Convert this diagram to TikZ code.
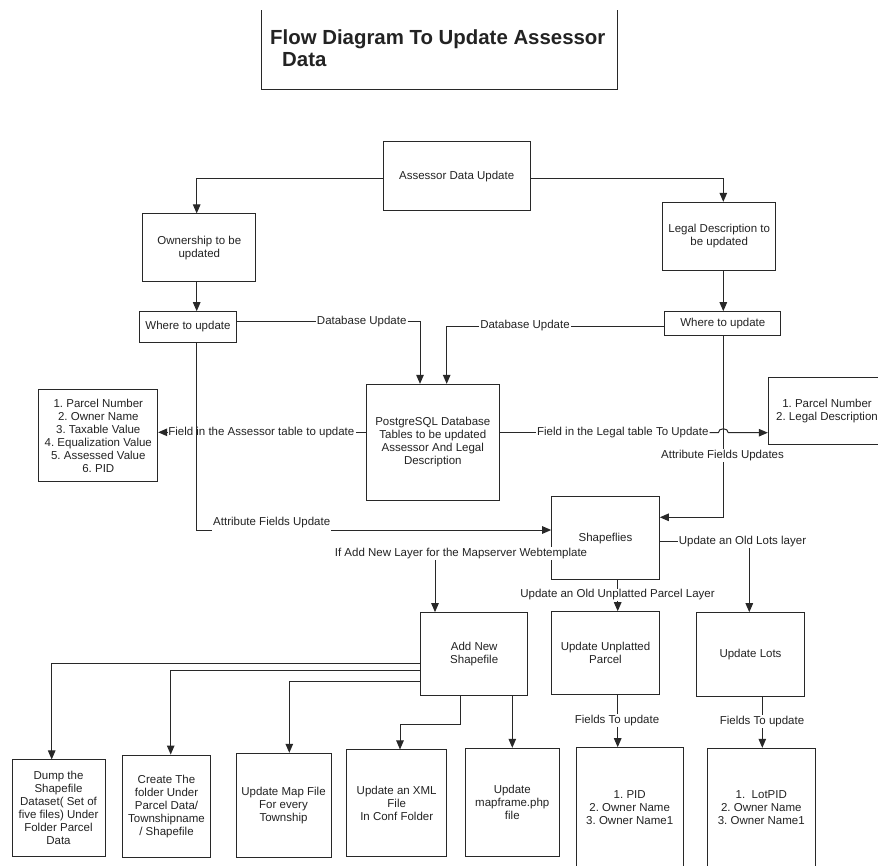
\documentclass[tikz,border=0pt]{standalone}
\usepackage{fontspec}
\setmainfont{Liberation Sans}
\usetikzlibrary{arrows.meta}
\definecolor{ln}{RGB}{40,40,40}
\definecolor{tx}{RGB}{35,35,35}
\frenchspacing
\begin{document}
\begin{tikzpicture}[x=1pt,y=-1pt,
  box/.style={draw=ln, line width=1pt, inner sep=0pt, align=center, text=tx, font=\fontsize{11.5}{13}\selectfont},
  lbl/.style={inner sep=1pt, text=tx, font=\fontsize{11.5}{13}\selectfont},
  wl/.style={lbl, fill=white},
  con/.style={draw=ln, line width=1pt},
  arr/.style={con, -{Triangle[length=9pt,width=7.5pt]}}
]
\useasboundingbox (0,0) rectangle (878,865);
\fill[white] (0,0) rectangle (878,865);
\clip (0,0) rectangle (878,865);

% title
\draw[con] (261,10) -- (261,89.3) -- (617,89.3) -- (617,10);
\node[anchor=base west, inner sep=0pt, text=tx, font=\fontsize{20.4}{23}\selectfont\bfseries] (t1) at (270,44.3) {Flow Diagram To Update Assessor};
\node[anchor=base west, inner sep=0pt, text=tx, font=\fontsize{20.4}{23}\selectfont\bfseries] (t2) at (282,66) {Data};

% column / row helper coordinates
\coordinate (cL) at (196.7,0);
\coordinate (cR) at (723.3,0);
\coordinate (cDB1) at (420,0);
\coordinate (cDB2) at (446.7,0);
\coordinate (cNew) at (435,0);
\coordinate (cLots) at (749.3,0);
\coordinate (cUn) at (617.7,0);
\coordinate (cLf) at (762.3,0);
\coordinate (cD) at (51.7,0);
\coordinate (cC) at (170.7,0);
\coordinate (cM) at (289.3,0);
\coordinate (cX) at (400,0);
\coordinate (cX0) at (460,0);
\coordinate (cMf) at (512.3,0);
\coordinate (yA) at (0,178.3);
\coordinate (ySh) at (0,517.3);
\coordinate (yAU) at (0,530);
\coordinate (yAN) at (0,553.3);
\coordinate (yOL) at (0,541.7);
\coordinate (yD) at (0,663.3);
\coordinate (yC) at (0,670);
\coordinate (yM) at (0,681.7);
\coordinate (yX) at (0,724.3);

% boxes
\node[box, minimum width=146.7pt, minimum height=69pt] (assessor) at (456.7,176.2) {Assessor Data Update};
\node[box, minimum width=113.3pt, minimum height=67.7pt] (own) at (199.3,247.8) {Ownership to be\\updated};
\node[box, minimum width=113pt, minimum height=67.7pt] (legal) at (719.2,236.2) {Legal Description to\\be updated};
\node[box, minimum width=97.4pt, minimum height=30.6pt] (whereL) at (188,327) {Where to update};
\node[box, minimum width=115.7pt, minimum height=24pt] (whereR) at (722.8,323.7) {Where to update};
\node[box, minimum width=133pt, minimum height=115.7pt] (pg) at (432.8,442.2) {PostgreSQL Database\\Tables to be updated\\Assessor And Legal\\Description};
\node[box, minimum width=118.7pt, minimum height=92.4pt] (listA) at (98.3,435.5) {1. Parcel Number\\2. Owner Name\\3. Taxable Value\\4. Equalization Value\\5. Assessed Value\\6. PID};
\node[box, minimum width=117.4pt, minimum height=67.3pt] (listB) at (827,411.3) {1. Parcel Number\\2. Legal Description};
\node[box, minimum width=107.6pt, minimum height=83.3pt] (shape) at (605.5,538.3) {Shapeflies};
\node[box, minimum width=107pt, minimum height=83.3pt] (addnew) at (474.2,654.3) {Add New\\Shapefile};
\node[box, minimum width=107.6pt, minimum height=82.6pt] (unpl) at (605.5,653) {Update Unplatted\\Parcel};
\node[box, minimum width=107.6pt, minimum height=84pt] (lots) at (750.5,654.7) {Update Lots};
\node[box, minimum width=107.3pt, minimum height=120.6pt] (pid) at (629.7,808) {1. PID\\2. Owner Name\\3. Owner Name1};
\node[box, minimum width=108pt, minimum height=119.4pt] (lotsf) at (761.3,808) {1.\ \ LotPID\\2. Owner Name\\3. Owner Name1};
\node[box, minimum width=93pt, minimum height=96.7pt] (dump) at (58.5,808.3) {Dump the\\Shapefile\\Dataset( Set of\\five files) Under\\Folder Parcel\\Data};
\node[box, minimum width=88.4pt, minimum height=102.3pt] (create) at (166.5,806.2) {Create The\\folder Under\\Parcel Data/\\Townshipname\\/ Shapefile};
\node[box, minimum width=95pt, minimum height=104pt] (map) at (283.5,805.3) {Update Map File\\For every\\Township};
\node[box, minimum width=100pt, minimum height=106.7pt] (xml) at (396.7,803.3) {Update an XML\\File\\In Conf Folder};
\node[box, minimum width=94pt, minimum height=108.4pt] (mapf) at (512.3,802.5) {Update\\mapframe.php\\file};

% top connectors
\draw[arr] (assessor.west |- yA) -| (cL |- own.north);
\draw[arr] (cL |- own.south) -- (cL |- whereL.north);
\draw[arr] (assessor.east |- yA) -| (cR |- legal.north);
\draw[arr] (cR |- legal.south) -- (cR |- whereR.north);

% database update
\node[lbl] (dbL) at (361.7,321.7) {Database Update};
\draw[con] (whereL.east |- dbL) -- (dbL.west);
\draw[arr] (dbL.east) -| (cDB1 |- pg.north);
\node[lbl] (dbR) at (525,326) {Database Update};
\draw[con] (whereR.west |- dbR) -- (dbR.east);
\draw[arr] (dbR.west) -| (cDB2 |- pg.north);

% field connectors
\node[lbl] (fA) at (261.3,432.3) {Field in the Assessor table to update};
\draw[con] (pg.west |- fA) -- (fA.east);
\draw[arr] (fA.west) -- (listA.east |- fA);
\node[lbl] (fL) at (622.8,432.7) {Field in the Legal table To Update};
\draw[con] (pg.east |- fL) -- (fL.west);
\draw[arr] (fL.east) -- (718.3,432.7) .. controls (718.3,427.5) and (728.3,427.5) .. (728.3,432.7) -- (listB.west |- fL);

% attribute fields
\node[lbl] (aF) at (722.5,455.7) {Attribute Fields Updates};
\draw[con] (cR |- whereR.south) -- (cR |- aF.north);
\draw[arr] (cR |- aF.south) |- (shape.east |- ySh);
\node[lbl] (aU) at (271.7,522.7) {Attribute Fields Update};
\draw[con] (cL |- whereL.south) |- (aU.west |- yAU);
\draw[arr] (aU.east |- yAU) -- (shape.west |- yAU);

% shapefiles branches
\draw[arr] (shape.west |- yAN) -| (cNew |- addnew.north);
\node[wl] (aN) at (461,553.3) {If Add New Layer for the Mapserver Webtemplate};
\draw[arr] (shape.east |- yOL) -| (cLots |- lots.north);
\node[wl] (oL) at (742.5,541.7) {Update an Old Lots layer};
\draw[arr] (cUn |- shape.south) -- (cUn |- unpl.north);
\node[wl] (uP) at (617.5,595) {Update an Old Unplatted Parcel Layer};
\draw[arr] (cUn |- unpl.south) -- (cUn |- pid.north);
\node[wl] (ft1) at (617,720.7) {Fields To update};
\draw[arr] (cLf |- lots.south) -- (cLf |- lotsf.north);
\node[wl] (ft2) at (762,721.7) {Fields To update};

% add new shapefile branches
\draw[arr] (addnew.west |- yD) -| (cD |- dump.north);
\draw[arr] (addnew.west |- yC) -| (cC |- create.north);
\draw[arr] (addnew.west |- yM) -| (cM |- map.north);
\draw[arr] (cX0 |- addnew.south) |- (cX |- yX) -- (cX |- xml.north);
\draw[arr] (cMf |- addnew.south) -- (cMf |- mapf.north);
\end{tikzpicture}
\end{document}
